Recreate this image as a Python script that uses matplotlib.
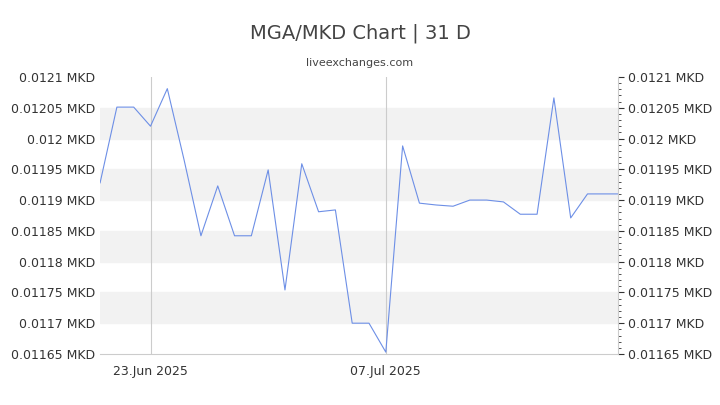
import matplotlib
matplotlib.use('Agg')
import matplotlib.pyplot as plt
import numpy as np

# daily MGA/MKD rates, 20 Jun 2025 -> 21 Jul 2025
day_index = list(range(32))
rates = [0.011928, 0.012051, 0.012051, 0.012020, 0.012081, 0.011965, 0.011842, 0.011923,
         0.011842, 0.011842, 0.011949, 0.011754, 0.011959, 0.011881, 0.011884, 0.011700,
         0.011700, 0.011653, 0.011988, 0.011895, 0.011892, 0.011890, 0.011900, 0.011900,
         0.011897, 0.011877, 0.011877, 0.012066, 0.011871, 0.011910, 0.011910, 0.011910]
tick_days = [3, 17]
tick_labels = ['23.Jun 2025', '07.Jul 2025']
y_ticks = [0.01165, 0.0117, 0.01175, 0.0118, 0.01185, 0.0119, 0.01195, 0.012, 0.01205, 0.0121]
y_labels = ['0.01165 MKD', '0.0117 MKD', '0.01175 MKD', '0.0118 MKD', '0.01185 MKD',
            '0.0119 MKD', '0.01195 MKD', '0.012 MKD', '0.01205 MKD', '0.0121 MKD']

fig = plt.figure(figsize=(7.2, 4.05), dpi=100)
ax = fig.add_axes([0.139, 0.126, 0.719, 0.684])

# alternating bands
for lo in [0.0117, 0.0118, 0.0119, 0.012]:
    ax.axhspan(lo, lo + 0.00005, color='#f2f2f2', zorder=0)
for d in tick_days:
    ax.axvline(d, color='#cccccc', lw=0.8, zorder=1)

ax.plot(day_index, rates, color='#6d8fe6', lw=0.8, zorder=2)

ax.set_xlim(0, 30.8)
ax.set_ylim(0.01165, 0.0121)
ax.set_xticks(tick_days)
ax.set_xticklabels(tick_labels, color='#333333', fontsize=9)
ax.set_yticks(y_ticks)
ax.set_yticklabels(y_labels, color='#333333', fontsize=9)
ax.tick_params(axis='x', length=0, pad=8)
ax.tick_params(axis='y', length=0)

ax2 = ax.twinx()
ax2.set_ylim(ax.get_ylim())
ax2.set_yticks(y_ticks)
ax2.set_yticklabels(y_labels, color='#333333', fontsize=9)
ax2.set_yticks(np.arange(0.01165, 0.0121, 0.00001), minor=True)
ax2.tick_params(axis='y', which='major', length=4, color='#333333')
ax2.tick_params(axis='y', which='minor', length=2, color='#333333')

for a in (ax, ax2):
    for s in a.spines.values():
        s.set_visible(False)
ax.spines['bottom'].set_visible(True)
ax.spines['bottom'].set_color('#cccccc')
ax2.spines['right'].set_visible(True)
ax2.spines['right'].set_color('#cccccc')

fig.text(0.5, 0.905, 'MGA/MKD Chart | 31 D', ha='center', fontsize=14, color='#444444')
fig.text(0.5, 0.838, 'liveexchanges.com', ha='center', fontsize=8, color='#444444')

fig.savefig('out.png', dpi=100)
